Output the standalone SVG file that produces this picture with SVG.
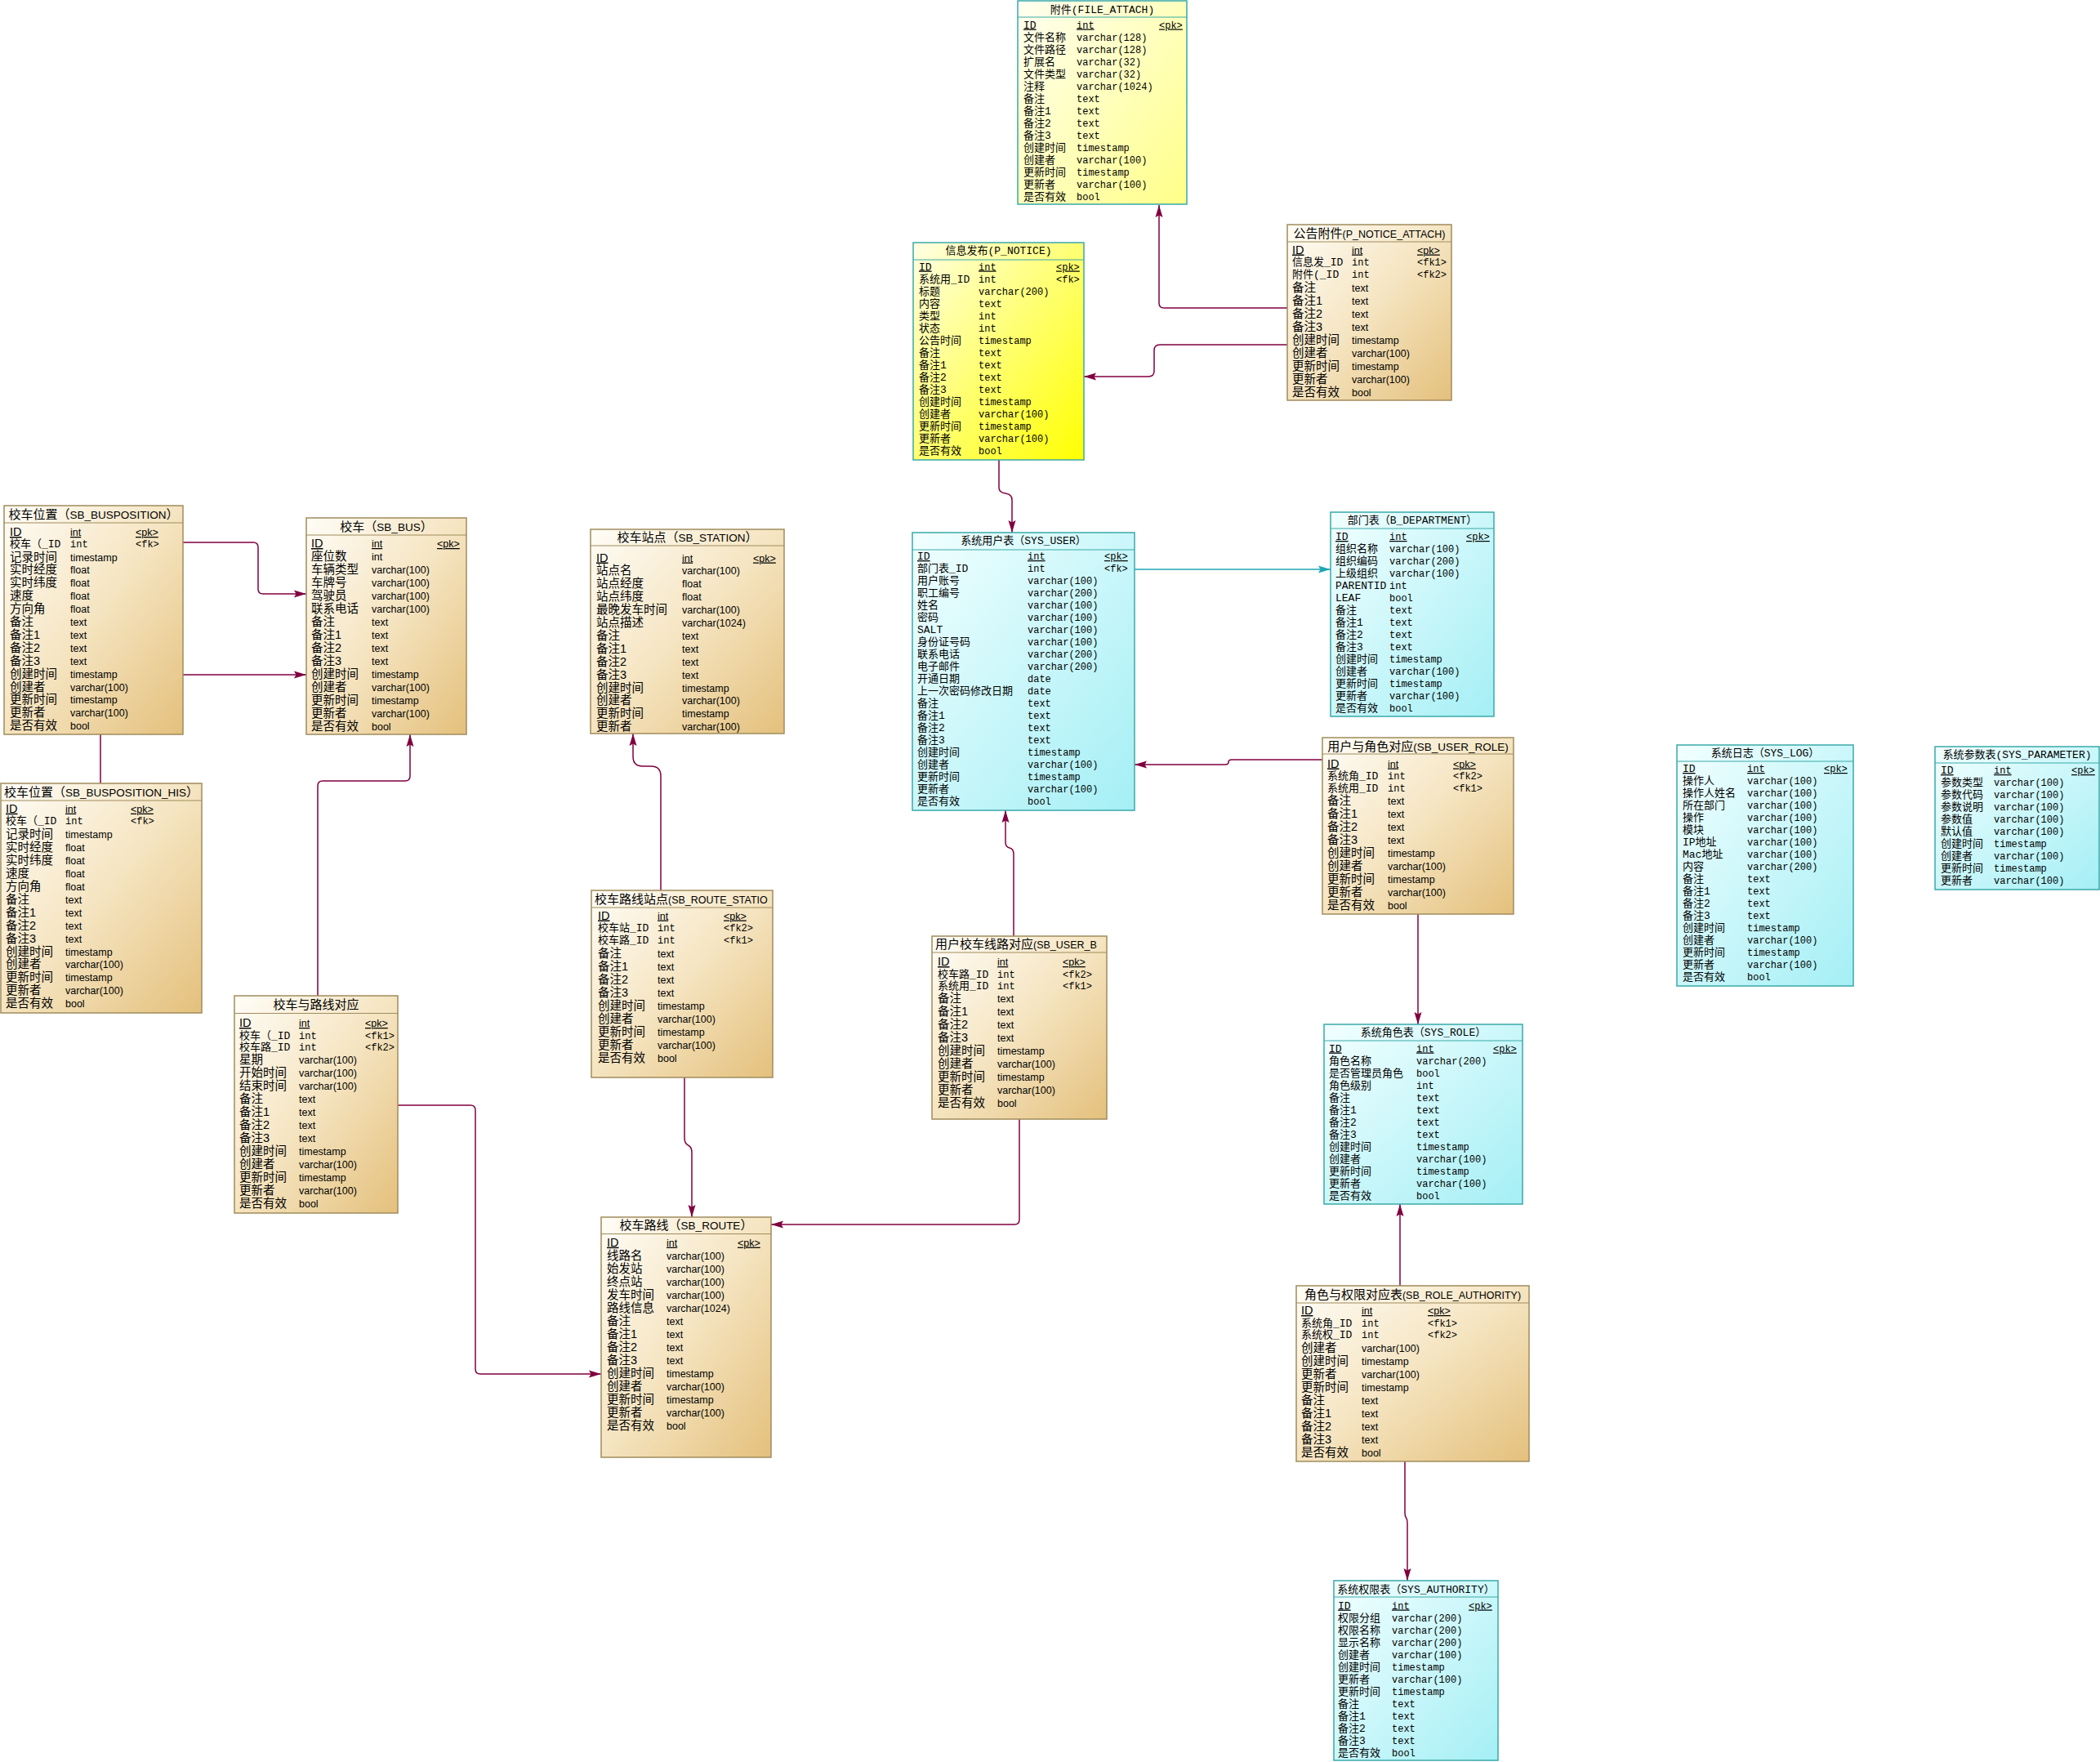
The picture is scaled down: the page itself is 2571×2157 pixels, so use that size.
<svg xmlns="http://www.w3.org/2000/svg" width="2571" height="2157" viewBox="0 0 2571 2157">
<style>
.rT{fill:url(#gT);stroke:#a08c5c;stroke-width:1.5}
.rC{fill:url(#gC);stroke:#3aa9a9;stroke-width:1.5}
.rY{fill:url(#gY);stroke:#3aa9a9;stroke-width:1.5}
.rL{fill:url(#gL);stroke:#3aa9a9;stroke-width:1.5}
.lT{fill:none;stroke:#a08c5c;stroke-width:1.2}
.lC{fill:none;stroke:#3aa9a9;stroke-width:1.2}
.mn{font-family:"Liberation Mono","Noto Sans CJK SC",monospace;font-size:13px;fill:#000}
.mt{font-family:"Liberation Mono","Noto Sans CJK SC",monospace;font-size:12px;fill:#000}
.sn{font-family:"Liberation Sans","Noto Sans CJK SC",sans-serif;font-size:14.5px;fill:#000}
.st{font-family:"Liberation Sans","Noto Sans CJK SC",sans-serif;font-size:12.5px;fill:#000}
.sh{font-family:"Liberation Sans","Noto Sans CJK SC",sans-serif;font-size:12.5px;fill:#000}
.sb{font-size:13.5px}
.hc{font-size:15px}
.ttl{text-anchor:middle}
.u{text-decoration:underline}
.cn{fill:none;stroke:#800040;stroke-width:1.5}
.cc{fill:none;stroke:#1fa6b4;stroke-width:1.5}
</style>
<defs>
<linearGradient id="gT" x1="0" y1="0" x2="1" y2="1"><stop offset="0" stop-color="#fffdf7"/><stop offset="0.5" stop-color="#f5e4c0"/><stop offset="1" stop-color="#e4c07c"/></linearGradient>
<linearGradient id="gC" x1="0" y1="0" x2="1" y2="1"><stop offset="0" stop-color="#f2ffff"/><stop offset="1" stop-color="#a4eff5"/></linearGradient>
<linearGradient id="gY" x1="0" y1="0" x2="1" y2="1"><stop offset="0" stop-color="#ffffe4"/><stop offset="1" stop-color="#ffff00"/></linearGradient>
<linearGradient id="gL" x1="0" y1="0" x2="1" y2="1"><stop offset="0" stop-color="#fffff2"/><stop offset="1" stop-color="#ffff88"/></linearGradient>
<marker id="ah" viewBox="0 0 15 10" refX="15" refY="5" markerWidth="15" markerHeight="10" markerUnits="userSpaceOnUse" orient="auto"><path d="M0,0.5 L15,5 L0,9.5 L2.5,5 z" fill="#800040"/></marker>
<marker id="ahc" viewBox="0 0 15 10" refX="15" refY="5" markerWidth="15" markerHeight="10" markerUnits="userSpaceOnUse" orient="auto"><path d="M0,0.5 L15,5 L0,9.5 L2.5,5 z" fill="#1fa6b4"/></marker>
<clipPath id="c17"><rect x="1" y="1" width="220" height="19"/></clipPath>
<clipPath id="c19"><rect x="1" y="1" width="212" height="18"/></clipPath>
</defs>
<rect width="2571" height="2157" fill="#ffffff"/>

<g id="connectors">
<path class="cn" d="M1576,377 H1425 Q1419,377 1419,371 V251" marker-end="url(#ah)"/>
<path class="cn" d="M1576,422 H1420 Q1413,422 1413,429 V454 Q1413,461 1406,461 H1327" marker-end="url(#ah)"/>
<path class="cn" d="M1223,563 V597 Q1223,603 1231,604 Q1239,605 1239,612 V652" marker-end="url(#ah)"/>
<path class="cc" d="M1389,697 H1629" marker-end="url(#ahc)"/>
<path class="cn" d="M1619,930 H1508 Q1504,930 1504,933 Q1504,936 1500,936 H1389" marker-end="url(#ah)"/>
<path class="cn" d="M1736,1119 V1254" marker-end="url(#ah)"/>
<path class="cn" d="M1714,1574 V1474" marker-end="url(#ah)"/>
<path class="cn" d="M1720,1789 V1852 Q1720,1856 1721.5,1858 Q1723,1860 1723,1864 V1935" marker-end="url(#ah)"/>
<path class="cn" d="M224,664 H310 Q316,664 316,670 V721 Q316,727 322,727 H375" marker-end="url(#ah)"/>
<path class="cn" d="M123,959 V826 H375" marker-end="url(#ah)"/>
<path class="cn" d="M389,1219 V962 Q389,956 395,956 H496 Q502,956 502,950 V899" marker-end="url(#ah)"/>
<path class="cn" d="M487,1353 H576 Q582,1353 582,1359 V1676 Q582,1682 588,1682 H736" marker-end="url(#ah)"/>
<path class="cn" d="M809,1090 V950 Q809,938 797,938 H787 Q775,938 775,926 V898" marker-end="url(#ah)"/>
<path class="cn" d="M838,1319 V1393 Q838,1400 842.5,1402 Q847,1404 847,1411 V1490" marker-end="url(#ah)"/>
<path class="cn" d="M1248,1370 V1493 Q1248,1499 1242,1499 H944" marker-end="url(#ah)"/>
<path class="cn" d="M1241,1146 V1046 Q1241,1039 1236,1038 Q1231,1037 1231,1031 V992" marker-end="url(#ah)"/>
</g>

<g id="file_attach" transform="translate(1246,1)">
<rect class="rL" width="207" height="249"/>
<path class="lC" d="M0,20H207"/>
<text class="mn ttl" x="103.5" y="14.5">附件(FILE_ATTACH)</text>
<text class="mn u" x="7" y="33.5">ID</text><text class="mt u" x="72" y="33.5">int</text><text class="mt u" x="173" y="33.5">&lt;pk&gt;</text>
<text class="mn"><tspan x="7" y="48.5">文件名称</tspan><tspan x="7" dy="15">文件路径</tspan><tspan x="7" dy="15">扩展名</tspan><tspan x="7" dy="15">文件类型</tspan><tspan x="7" dy="15">注释</tspan><tspan x="7" dy="15">备注</tspan><tspan x="7" dy="15">备注1</tspan><tspan x="7" dy="15">备注2</tspan><tspan x="7" dy="15">备注3</tspan><tspan x="7" dy="15">创建时间</tspan><tspan x="7" dy="15">创建者</tspan><tspan x="7" dy="15">更新时间</tspan><tspan x="7" dy="15">更新者</tspan><tspan x="7" dy="15">是否有效</tspan></text>
<text class="mt"><tspan x="72" y="48.5">varchar(128)</tspan><tspan x="72" dy="15">varchar(128)</tspan><tspan x="72" dy="15">varchar(32)</tspan><tspan x="72" dy="15">varchar(32)</tspan><tspan x="72" dy="15">varchar(1024)</tspan><tspan x="72" dy="15">text</tspan><tspan x="72" dy="15">text</tspan><tspan x="72" dy="15">text</tspan><tspan x="72" dy="15">text</tspan><tspan x="72" dy="15">timestamp</tspan><tspan x="72" dy="15">varchar(100)</tspan><tspan x="72" dy="15">timestamp</tspan><tspan x="72" dy="15">varchar(100)</tspan><tspan x="72" dy="15">bool</tspan></text>
</g>

<g id="p_notice" transform="translate(1118,297)">
<rect class="rY" width="209" height="266"/>
<path class="lC" d="M0,21H209"/>
<text class="mn ttl" x="104.5" y="14">信息发布(P_NOTICE)</text>
<text class="mn u" x="7" y="33.5">ID</text><text class="mt u" x="80" y="33.5">int</text><text class="mt u" x="175" y="33.5">&lt;pk&gt;</text>
<text class="mt" x="175" y="48.5">&lt;fk&gt;</text>
<text class="mn"><tspan x="7" y="48.5">系统用_ID</tspan><tspan x="7" dy="15">标题</tspan><tspan x="7" dy="15">内容</tspan><tspan x="7" dy="15">类型</tspan><tspan x="7" dy="15">状态</tspan><tspan x="7" dy="15">公告时间</tspan><tspan x="7" dy="15">备注</tspan><tspan x="7" dy="15">备注1</tspan><tspan x="7" dy="15">备注2</tspan><tspan x="7" dy="15">备注3</tspan><tspan x="7" dy="15">创建时间</tspan><tspan x="7" dy="15">创建者</tspan><tspan x="7" dy="15">更新时间</tspan><tspan x="7" dy="15">更新者</tspan><tspan x="7" dy="15">是否有效</tspan></text>
<text class="mt"><tspan x="80" y="48.5">int</tspan><tspan x="80" dy="15">varchar(200)</tspan><tspan x="80" dy="15">text</tspan><tspan x="80" dy="15">int</tspan><tspan x="80" dy="15">int</tspan><tspan x="80" dy="15">timestamp</tspan><tspan x="80" dy="15">text</tspan><tspan x="80" dy="15">text</tspan><tspan x="80" dy="15">text</tspan><tspan x="80" dy="15">text</tspan><tspan x="80" dy="15">timestamp</tspan><tspan x="80" dy="15">varchar(100)</tspan><tspan x="80" dy="15">timestamp</tspan><tspan x="80" dy="15">varchar(100)</tspan><tspan x="80" dy="15">bool</tspan></text>
</g>

<g id="p_notice_attach" transform="translate(1576,275)">
<rect class="rT" width="201" height="215"/>
<path class="lT" d="M0,21H201"/>
<text class="sh ttl" x="100.5" y="15.5"><tspan class="hc">公告附件</tspan>(P_NOTICE_ATTACH)</text>
<text class="sn u" x="6" y="35.5">ID</text><text class="st u" x="79" y="35.5">int</text><text class="st u" x="159" y="35.5">&lt;pk&gt;</text>
<text class="mn"><tspan x="6" y="50">信息发_ID</tspan><tspan x="6" y="65">附件(_ID</tspan></text>
<text class="mt"><tspan x="79" y="50">int</tspan><tspan x="79" y="65">int</tspan><tspan x="159" y="50">&lt;fk1&gt;</tspan><tspan x="159" y="65">&lt;fk2&gt;</tspan></text>
<text class="sn"><tspan x="6" y="82">备注</tspan><tspan x="6" dy="16">备注1</tspan><tspan x="6" dy="16">备注2</tspan><tspan x="6" dy="16">备注3</tspan><tspan x="6" dy="16">创建时间</tspan><tspan x="6" dy="16">创建者</tspan><tspan x="6" dy="16">更新时间</tspan><tspan x="6" dy="16">更新者</tspan><tspan x="6" dy="16">是否有效</tspan></text>
<text class="st"><tspan x="79" y="82">text</tspan><tspan x="79" dy="16">text</tspan><tspan x="79" dy="16">text</tspan><tspan x="79" dy="16">text</tspan><tspan x="79" dy="16">timestamp</tspan><tspan x="79" dy="16">varchar(100)</tspan><tspan x="79" dy="16">timestamp</tspan><tspan x="79" dy="16">varchar(100)</tspan><tspan x="79" dy="16">bool</tspan></text>
</g>

<g id="sys_user" transform="translate(1117,652)">
<rect class="rC" width="272" height="340"/>
<path class="lC" d="M0,21H272"/>
<text class="mn ttl" x="136" y="14">系统用户表（SYS_USER）</text>
<text class="mn u" x="6" y="33">ID</text><text class="mt u" x="141" y="33">int</text><text class="mt u" x="235" y="33">&lt;pk&gt;</text>
<text class="mt" x="235" y="48">&lt;fk&gt;</text>
<text class="mn"><tspan x="6" y="48">部门表_ID</tspan><tspan x="6" dy="15">用户账号</tspan><tspan x="6" dy="15">职工编号</tspan><tspan x="6" dy="15">姓名</tspan><tspan x="6" dy="15">密码</tspan><tspan x="6" dy="15">SALT</tspan><tspan x="6" dy="15">身份证号码</tspan><tspan x="6" dy="15">联系电话</tspan><tspan x="6" dy="15">电子邮件</tspan><tspan x="6" dy="15">开通日期</tspan><tspan x="6" dy="15">上一次密码修改日期</tspan><tspan x="6" dy="15">备注</tspan><tspan x="6" dy="15">备注1</tspan><tspan x="6" dy="15">备注2</tspan><tspan x="6" dy="15">备注3</tspan><tspan x="6" dy="15">创建时间</tspan><tspan x="6" dy="15">创建者</tspan><tspan x="6" dy="15">更新时间</tspan><tspan x="6" dy="15">更新者</tspan><tspan x="6" dy="15">是否有效</tspan></text>
<text class="mt"><tspan x="141" y="48">int</tspan><tspan x="141" dy="15">varchar(100)</tspan><tspan x="141" dy="15">varchar(200)</tspan><tspan x="141" dy="15">varchar(100)</tspan><tspan x="141" dy="15">varchar(100)</tspan><tspan x="141" dy="15">varchar(100)</tspan><tspan x="141" dy="15">varchar(100)</tspan><tspan x="141" dy="15">varchar(200)</tspan><tspan x="141" dy="15">varchar(200)</tspan><tspan x="141" dy="15">date</tspan><tspan x="141" dy="15">date</tspan><tspan x="141" dy="15">text</tspan><tspan x="141" dy="15">text</tspan><tspan x="141" dy="15">text</tspan><tspan x="141" dy="15">text</tspan><tspan x="141" dy="15">timestamp</tspan><tspan x="141" dy="15">varchar(100)</tspan><tspan x="141" dy="15">timestamp</tspan><tspan x="141" dy="15">varchar(100)</tspan><tspan x="141" dy="15">bool</tspan></text>
</g>

<g id="b_department" transform="translate(1629,627)">
<rect class="rC" width="200" height="250"/>
<path class="lC" d="M0,20H200"/>
<text class="mn ttl" x="100" y="14">部门表（B_DEPARTMENT）</text>
<text class="mn u" x="6" y="34">ID</text><text class="mt u" x="72" y="34">int</text><text class="mt u" x="166" y="34">&lt;pk&gt;</text>
<text class="mn"><tspan x="6" y="49">组织名称</tspan><tspan x="6" dy="15">组织编码</tspan><tspan x="6" dy="15">上级组织</tspan><tspan x="6" dy="15">PARENTID</tspan><tspan x="6" dy="15">LEAF</tspan><tspan x="6" dy="15">备注</tspan><tspan x="6" dy="15">备注1</tspan><tspan x="6" dy="15">备注2</tspan><tspan x="6" dy="15">备注3</tspan><tspan x="6" dy="15">创建时间</tspan><tspan x="6" dy="15">创建者</tspan><tspan x="6" dy="15">更新时间</tspan><tspan x="6" dy="15">更新者</tspan><tspan x="6" dy="15">是否有效</tspan></text>
<text class="mt"><tspan x="72" y="49">varchar(100)</tspan><tspan x="72" dy="15">varchar(200)</tspan><tspan x="72" dy="15">varchar(100)</tspan><tspan x="72" dy="15">int</tspan><tspan x="72" dy="15">bool</tspan><tspan x="72" dy="15">text</tspan><tspan x="72" dy="15">text</tspan><tspan x="72" dy="15">text</tspan><tspan x="72" dy="15">text</tspan><tspan x="72" dy="15">timestamp</tspan><tspan x="72" dy="15">varchar(100)</tspan><tspan x="72" dy="15">timestamp</tspan><tspan x="72" dy="15">varchar(100)</tspan><tspan x="72" dy="15">bool</tspan></text>
</g>

<g id="sb_user_role" transform="translate(1619,903)">
<rect class="rT" width="234" height="216"/>
<path class="lT" d="M0,20H234"/>
<text class="sh ttl" x="117" y="15.5"><tspan class="hc">用户与角色对应</tspan><tspan class="sb">(SB_USER_ROLE)</tspan></text>
<text class="sn u" x="6" y="36.5">ID</text><text class="st u" x="80" y="36.5">int</text><text class="st u" x="160" y="36.5">&lt;pk&gt;</text>
<text class="mn"><tspan x="6" y="51">系统角_ID</tspan><tspan x="6" y="65.5">系统用_ID</tspan></text>
<text class="mt"><tspan x="80" y="51">int</tspan><tspan x="80" y="65.5">int</tspan><tspan x="160" y="51">&lt;fk2&gt;</tspan><tspan x="160" y="65.5">&lt;fk1&gt;</tspan></text>
<text class="sn"><tspan x="6" y="82">备注</tspan><tspan x="6" dy="16">备注1</tspan><tspan x="6" dy="16">备注2</tspan><tspan x="6" dy="16">备注3</tspan><tspan x="6" dy="16">创建时间</tspan><tspan x="6" dy="16">创建者</tspan><tspan x="6" dy="16">更新时间</tspan><tspan x="6" dy="16">更新者</tspan><tspan x="6" dy="16">是否有效</tspan></text>
<text class="st"><tspan x="80" y="82">text</tspan><tspan x="80" dy="16">text</tspan><tspan x="80" dy="16">text</tspan><tspan x="80" dy="16">text</tspan><tspan x="80" dy="16">timestamp</tspan><tspan x="80" dy="16">varchar(100)</tspan><tspan x="80" dy="16">timestamp</tspan><tspan x="80" dy="16">varchar(100)</tspan><tspan x="80" dy="16">bool</tspan></text>
</g>

<g id="sys_role" transform="translate(1621,1254)">
<rect class="rC" width="243" height="220"/>
<path class="lC" d="M0,20H243"/>
<text class="mn ttl" x="121.5" y="14">系统角色表（SYS_ROLE）</text>
<text class="mn u" x="6" y="33.5">ID</text><text class="mt u" x="113" y="33.5">int</text><text class="mt u" x="207" y="33.5">&lt;pk&gt;</text>
<text class="mn"><tspan x="6" y="48.5">角色名称</tspan><tspan x="6" dy="15">是否管理员角色</tspan><tspan x="6" dy="15">角色级别</tspan><tspan x="6" dy="15">备注</tspan><tspan x="6" dy="15">备注1</tspan><tspan x="6" dy="15">备注2</tspan><tspan x="6" dy="15">备注3</tspan><tspan x="6" dy="15">创建时间</tspan><tspan x="6" dy="15">创建者</tspan><tspan x="6" dy="15">更新时间</tspan><tspan x="6" dy="15">更新者</tspan><tspan x="6" dy="15">是否有效</tspan></text>
<text class="mt"><tspan x="113" y="48.5">varchar(200)</tspan><tspan x="113" dy="15">bool</tspan><tspan x="113" dy="15">int</tspan><tspan x="113" dy="15">text</tspan><tspan x="113" dy="15">text</tspan><tspan x="113" dy="15">text</tspan><tspan x="113" dy="15">text</tspan><tspan x="113" dy="15">timestamp</tspan><tspan x="113" dy="15">varchar(100)</tspan><tspan x="113" dy="15">timestamp</tspan><tspan x="113" dy="15">varchar(100)</tspan><tspan x="113" dy="15">bool</tspan></text>
</g>

<g id="sb_role_authority" transform="translate(1587,1574)">
<rect class="rT" width="285" height="215"/>
<path class="lT" d="M0,21H285"/>
<text class="sh ttl" x="142.5" y="15.5"><tspan class="hc">角色与权限对应表</tspan>(SB_ROLE_AUTHORITY)</text>
<text class="sn u" x="6" y="35">ID</text><text class="st u" x="80" y="35">int</text><text class="st u" x="161" y="35">&lt;pk&gt;</text>
<text class="mn"><tspan x="6" y="49.5">系统角_ID</tspan><tspan x="6" y="64">系统权_ID</tspan></text>
<text class="mt"><tspan x="80" y="49.5">int</tspan><tspan x="80" y="64">int</tspan><tspan x="161" y="49.5">&lt;fk1&gt;</tspan><tspan x="161" y="64">&lt;fk2&gt;</tspan></text>
<text class="sn"><tspan x="6" y="80.5">创建者</tspan><tspan x="6" dy="16">创建时间</tspan><tspan x="6" dy="16">更新者</tspan><tspan x="6" dy="16">更新时间</tspan><tspan x="6" dy="16">备注</tspan><tspan x="6" dy="16">备注1</tspan><tspan x="6" dy="16">备注2</tspan><tspan x="6" dy="16">备注3</tspan><tspan x="6" dy="16">是否有效</tspan></text>
<text class="st"><tspan x="80" y="80.5">varchar(100)</tspan><tspan x="80" dy="16">timestamp</tspan><tspan x="80" dy="16">varchar(100)</tspan><tspan x="80" dy="16">timestamp</tspan><tspan x="80" dy="16">text</tspan><tspan x="80" dy="16">text</tspan><tspan x="80" dy="16">text</tspan><tspan x="80" dy="16">text</tspan><tspan x="80" dy="16">bool</tspan></text>
</g>

<g id="sys_authority" transform="translate(1633,1935)">
<rect class="rC" width="201" height="220"/>
<path class="lC" d="M0,20H201"/>
<text class="mn ttl" x="100.5" y="14.5">系统权限表（SYS_AUTHORITY）</text>
<text class="mn u" x="5" y="34.5">ID</text><text class="mt u" x="71" y="34.5">int</text><text class="mt u" x="165" y="34.5">&lt;pk&gt;</text>
<text class="mn"><tspan x="5" y="49.5">权限分组</tspan><tspan x="5" dy="15">权限名称</tspan><tspan x="5" dy="15">显示名称</tspan><tspan x="5" dy="15">创建者</tspan><tspan x="5" dy="15">创建时间</tspan><tspan x="5" dy="15">更新者</tspan><tspan x="5" dy="15">更新时间</tspan><tspan x="5" dy="15">备注</tspan><tspan x="5" dy="15">备注1</tspan><tspan x="5" dy="15">备注2</tspan><tspan x="5" dy="15">备注3</tspan><tspan x="5" dy="15">是否有效</tspan></text>
<text class="mt"><tspan x="71" y="49.5">varchar(200)</tspan><tspan x="71" dy="15">varchar(200)</tspan><tspan x="71" dy="15">varchar(200)</tspan><tspan x="71" dy="15">varchar(100)</tspan><tspan x="71" dy="15">timestamp</tspan><tspan x="71" dy="15">varchar(100)</tspan><tspan x="71" dy="15">timestamp</tspan><tspan x="71" dy="15">text</tspan><tspan x="71" dy="15">text</tspan><tspan x="71" dy="15">text</tspan><tspan x="71" dy="15">text</tspan><tspan x="71" dy="15">bool</tspan></text>
</g>

<g id="sys_log" transform="translate(2053,912)">
<rect class="rC" width="216" height="295"/>
<path class="lC" d="M0,20H216"/>
<text class="mn ttl" x="108" y="14">系统日志（SYS_LOG）</text>
<text class="mn u" x="7" y="33">ID</text><text class="mt u" x="86" y="33">int</text><text class="mt u" x="180" y="33">&lt;pk&gt;</text>
<text class="mn"><tspan x="7" y="48">操作人</tspan><tspan x="7" dy="15">操作人姓名</tspan><tspan x="7" dy="15">所在部门</tspan><tspan x="7" dy="15">操作</tspan><tspan x="7" dy="15">模块</tspan><tspan x="7" dy="15">IP地址</tspan><tspan x="7" dy="15">Mac地址</tspan><tspan x="7" dy="15">内容</tspan><tspan x="7" dy="15">备注</tspan><tspan x="7" dy="15">备注1</tspan><tspan x="7" dy="15">备注2</tspan><tspan x="7" dy="15">备注3</tspan><tspan x="7" dy="15">创建时间</tspan><tspan x="7" dy="15">创建者</tspan><tspan x="7" dy="15">更新时间</tspan><tspan x="7" dy="15">更新者</tspan><tspan x="7" dy="15">是否有效</tspan></text>
<text class="mt"><tspan x="86" y="48">varchar(100)</tspan><tspan x="86" dy="15">varchar(100)</tspan><tspan x="86" dy="15">varchar(100)</tspan><tspan x="86" dy="15">varchar(100)</tspan><tspan x="86" dy="15">varchar(100)</tspan><tspan x="86" dy="15">varchar(100)</tspan><tspan x="86" dy="15">varchar(100)</tspan><tspan x="86" dy="15">varchar(200)</tspan><tspan x="86" dy="15">text</tspan><tspan x="86" dy="15">text</tspan><tspan x="86" dy="15">text</tspan><tspan x="86" dy="15">text</tspan><tspan x="86" dy="15">timestamp</tspan><tspan x="86" dy="15">varchar(100)</tspan><tspan x="86" dy="15">timestamp</tspan><tspan x="86" dy="15">varchar(100)</tspan><tspan x="86" dy="15">bool</tspan></text>
</g>

<g id="sys_parameter" transform="translate(2369,914)">
<rect class="rC" width="201" height="175"/>
<path class="lC" d="M0,20H201"/>
<text class="mn ttl" x="100.5" y="14">系统参数表(SYS_PARAMETER)</text>
<text class="mn u" x="7" y="33">ID</text><text class="mt u" x="72" y="33">int</text><text class="mt u" x="167" y="33">&lt;pk&gt;</text>
<text class="mn"><tspan x="7" y="48">参数类型</tspan><tspan x="7" dy="15">参数代码</tspan><tspan x="7" dy="15">参数说明</tspan><tspan x="7" dy="15">参数值</tspan><tspan x="7" dy="15">默认值</tspan><tspan x="7" dy="15">创建时间</tspan><tspan x="7" dy="15">创建者</tspan><tspan x="7" dy="15">更新时间</tspan><tspan x="7" dy="15">更新者</tspan></text>
<text class="mt"><tspan x="72" y="48">varchar(100)</tspan><tspan x="72" dy="15">varchar(100)</tspan><tspan x="72" dy="15">varchar(100)</tspan><tspan x="72" dy="15">varchar(100)</tspan><tspan x="72" dy="15">varchar(100)</tspan><tspan x="72" dy="15">timestamp</tspan><tspan x="72" dy="15">varchar(100)</tspan><tspan x="72" dy="15">timestamp</tspan><tspan x="72" dy="15">varchar(100)</tspan></text>
</g>

<g id="sb_busposition" transform="translate(5,619)">
<rect class="rT" width="219" height="280"/>
<path class="lT" d="M0,21H219"/>
<text class="sh ttl" x="109.5" y="15.5"><tspan class="hc">校车位置（</tspan><tspan class="sb">SB_BUSPOSITION</tspan><tspan class="hc">）</tspan></text>
<text class="sn u" x="7" y="37">ID</text><text class="st u" x="81" y="37">int</text><text class="st u" x="161" y="37">&lt;pk&gt;</text>
<text class="mn" x="7" y="51">校车（_ID</text><text class="mt" x="81" y="51">int</text><text class="mt" x="161" y="51">&lt;fk&gt;</text>
<text class="sn"><tspan x="7" y="67.5">记录时间</tspan><tspan x="7" dy="15.9">实时经度</tspan><tspan x="7" dy="15.9">实时纬度</tspan><tspan x="7" dy="15.9">速度</tspan><tspan x="7" dy="15.9">方向角</tspan><tspan x="7" dy="15.9">备注</tspan><tspan x="7" dy="15.9">备注1</tspan><tspan x="7" dy="15.9">备注2</tspan><tspan x="7" dy="15.9">备注3</tspan><tspan x="7" dy="15.9">创建时间</tspan><tspan x="7" dy="15.9">创建者</tspan><tspan x="7" dy="15.9">更新时间</tspan><tspan x="7" dy="15.9">更新者</tspan><tspan x="7" dy="15.9">是否有效</tspan></text>
<text class="st"><tspan x="81" y="67.5">timestamp</tspan><tspan x="81" dy="15.9">float</tspan><tspan x="81" dy="15.9">float</tspan><tspan x="81" dy="15.9">float</tspan><tspan x="81" dy="15.9">float</tspan><tspan x="81" dy="15.9">text</tspan><tspan x="81" dy="15.9">text</tspan><tspan x="81" dy="15.9">text</tspan><tspan x="81" dy="15.9">text</tspan><tspan x="81" dy="15.9">timestamp</tspan><tspan x="81" dy="15.9">varchar(100)</tspan><tspan x="81" dy="15.9">timestamp</tspan><tspan x="81" dy="15.9">varchar(100)</tspan><tspan x="81" dy="15.9">bool</tspan></text>
</g>

<g id="sb_bus" transform="translate(375,634)">
<rect class="rT" width="196" height="265"/>
<path class="lT" d="M0,21H196"/>
<text class="sh ttl" x="98" y="15.5"><tspan class="hc">校车（</tspan><tspan class="sb">SB_BUS</tspan><tspan class="hc">）</tspan></text>
<text class="sn u" x="6" y="36">ID</text><text class="st u" x="80" y="36">int</text><text class="st u" x="160" y="36">&lt;pk&gt;</text>
<text class="sn"><tspan x="6" y="52">座位数</tspan><tspan x="6" dy="16">车辆类型</tspan><tspan x="6" dy="16">车牌号</tspan><tspan x="6" dy="16">驾驶员</tspan><tspan x="6" dy="16">联系电话</tspan><tspan x="6" dy="16">备注</tspan><tspan x="6" dy="16">备注1</tspan><tspan x="6" dy="16">备注2</tspan><tspan x="6" dy="16">备注3</tspan><tspan x="6" dy="16">创建时间</tspan><tspan x="6" dy="16">创建者</tspan><tspan x="6" dy="16">更新时间</tspan><tspan x="6" dy="16">更新者</tspan><tspan x="6" dy="16">是否有效</tspan></text>
<text class="st"><tspan x="80" y="52">int</tspan><tspan x="80" dy="16">varchar(100)</tspan><tspan x="80" dy="16">varchar(100)</tspan><tspan x="80" dy="16">varchar(100)</tspan><tspan x="80" dy="16">varchar(100)</tspan><tspan x="80" dy="16">text</tspan><tspan x="80" dy="16">text</tspan><tspan x="80" dy="16">text</tspan><tspan x="80" dy="16">text</tspan><tspan x="80" dy="16">timestamp</tspan><tspan x="80" dy="16">varchar(100)</tspan><tspan x="80" dy="16">timestamp</tspan><tspan x="80" dy="16">varchar(100)</tspan><tspan x="80" dy="16">bool</tspan></text>
</g>

<g id="sb_station" transform="translate(723,648)">
<rect class="rT" width="237" height="250"/>
<path class="lT" d="M0,20H237"/>
<text class="sh ttl" x="118.5" y="15"><tspan class="hc">校车站点（</tspan><tspan class="sb">SB_STATION</tspan><tspan class="hc">）</tspan></text>
<text class="sn u" x="7" y="39.5">ID</text><text class="st u" x="112" y="39.5">int</text><text class="st u" x="199" y="39.5">&lt;pk&gt;</text>
<text class="sn"><tspan x="7" y="55.4">站点名</tspan><tspan x="7" dy="15.9">站点经度</tspan><tspan x="7" dy="15.9">站点纬度</tspan><tspan x="7" dy="15.9">最晚发车时间</tspan><tspan x="7" dy="15.9">站点描述</tspan><tspan x="7" dy="15.9">备注</tspan><tspan x="7" dy="15.9">备注1</tspan><tspan x="7" dy="15.9">备注2</tspan><tspan x="7" dy="15.9">备注3</tspan><tspan x="7" dy="15.9">创建时间</tspan><tspan x="7" dy="15.9">创建者</tspan><tspan x="7" dy="15.9">更新时间</tspan><tspan x="7" dy="15.9">更新者</tspan></text>
<text class="st"><tspan x="112" y="55.4">varchar(100)</tspan><tspan x="112" dy="15.9">float</tspan><tspan x="112" dy="15.9">float</tspan><tspan x="112" dy="15.9">varchar(100)</tspan><tspan x="112" dy="15.9">varchar(1024)</tspan><tspan x="112" dy="15.9">text</tspan><tspan x="112" dy="15.9">text</tspan><tspan x="112" dy="15.9">text</tspan><tspan x="112" dy="15.9">text</tspan><tspan x="112" dy="15.9">timestamp</tspan><tspan x="112" dy="15.9">varchar(100)</tspan><tspan x="112" dy="15.9">timestamp</tspan><tspan x="112" dy="15.9">varchar(100)</tspan></text>
</g>

<g id="sb_busposition_his" transform="translate(1,959)">
<rect class="rT" width="246" height="281"/>
<path class="lT" d="M0,21H246"/>
<text class="sh ttl" x="123" y="15.5"><tspan class="hc">校车位置（</tspan><tspan class="sb">SB_BUSPOSITION_HIS</tspan><tspan class="hc">）</tspan></text>
<text class="sn u" x="6" y="35.7">ID</text><text class="st u" x="79" y="35.7">int</text><text class="st u" x="159" y="35.7">&lt;pk&gt;</text>
<text class="mn" x="6" y="50.3">校车（_ID</text><text class="mt" x="79" y="50.3">int</text><text class="mt" x="159" y="50.3">&lt;fk&gt;</text>
<text class="sn"><tspan x="6" y="67">记录时间</tspan><tspan x="6" dy="15.95">实时经度</tspan><tspan x="6" dy="15.95">实时纬度</tspan><tspan x="6" dy="15.95">速度</tspan><tspan x="6" dy="15.95">方向角</tspan><tspan x="6" dy="15.95">备注</tspan><tspan x="6" dy="15.95">备注1</tspan><tspan x="6" dy="15.95">备注2</tspan><tspan x="6" dy="15.95">备注3</tspan><tspan x="6" dy="15.95">创建时间</tspan><tspan x="6" dy="15.95">创建者</tspan><tspan x="6" dy="15.95">更新时间</tspan><tspan x="6" dy="15.95">更新者</tspan><tspan x="6" dy="15.95">是否有效</tspan></text>
<text class="st"><tspan x="79" y="67">timestamp</tspan><tspan x="79" dy="15.95">float</tspan><tspan x="79" dy="15.95">float</tspan><tspan x="79" dy="15.95">float</tspan><tspan x="79" dy="15.95">float</tspan><tspan x="79" dy="15.95">text</tspan><tspan x="79" dy="15.95">text</tspan><tspan x="79" dy="15.95">text</tspan><tspan x="79" dy="15.95">text</tspan><tspan x="79" dy="15.95">timestamp</tspan><tspan x="79" dy="15.95">varchar(100)</tspan><tspan x="79" dy="15.95">timestamp</tspan><tspan x="79" dy="15.95">varchar(100)</tspan><tspan x="79" dy="15.95">bool</tspan></text>
</g>

<g id="sb_bus_route" transform="translate(287,1219)">
<rect class="rT" width="200" height="266"/>
<path class="lT" d="M0,21.5H200"/>
<text class="sh ttl hc" x="100" y="16">校车与路线对应</text>
<text class="sn u" x="6" y="38">ID</text><text class="st u" x="79" y="38">int</text><text class="st u" x="160" y="38">&lt;pk&gt;</text>
<text class="mn"><tspan x="6" y="52.5">校车（_ID</tspan><tspan x="6" y="67">校车路_ID</tspan></text>
<text class="mt"><tspan x="79" y="52.5">int</tspan><tspan x="79" y="67">int</tspan><tspan x="160" y="52.5">&lt;fk1&gt;</tspan><tspan x="160" y="67">&lt;fk2&gt;</tspan></text>
<text class="sn"><tspan x="6" y="83">星期</tspan><tspan x="6" dy="16">开始时间</tspan><tspan x="6" dy="16">结束时间</tspan><tspan x="6" dy="16">备注</tspan><tspan x="6" dy="16">备注1</tspan><tspan x="6" dy="16">备注2</tspan><tspan x="6" dy="16">备注3</tspan><tspan x="6" dy="16">创建时间</tspan><tspan x="6" dy="16">创建者</tspan><tspan x="6" dy="16">更新时间</tspan><tspan x="6" dy="16">更新者</tspan><tspan x="6" dy="16">是否有效</tspan></text>
<text class="st"><tspan x="79" y="83">varchar(100)</tspan><tspan x="79" dy="16">varchar(100)</tspan><tspan x="79" dy="16">varchar(100)</tspan><tspan x="79" dy="16">text</tspan><tspan x="79" dy="16">text</tspan><tspan x="79" dy="16">text</tspan><tspan x="79" dy="16">text</tspan><tspan x="79" dy="16">timestamp</tspan><tspan x="79" dy="16">varchar(100)</tspan><tspan x="79" dy="16">timestamp</tspan><tspan x="79" dy="16">varchar(100)</tspan><tspan x="79" dy="16">bool</tspan></text>
</g>

<g id="sb_route_station" transform="translate(724,1090)">
<rect class="rT" width="222" height="229"/>
<path class="lT" d="M0,21H222"/>
<text class="sh" x="4" y="15.5" clip-path="url(#c17)"><tspan class="hc">校车路线站点</tspan>(SB_ROUTE_STATIO</text>
<text class="sn u" x="8" y="35.5">ID</text><text class="st u" x="81" y="35.5">int</text><text class="st u" x="162" y="35.5">&lt;pk&gt;</text>
<text class="mn"><tspan x="8" y="50.3">校车站_ID</tspan><tspan x="8" y="65">校车路_ID</tspan></text>
<text class="mt"><tspan x="81" y="50.3">int</tspan><tspan x="81" y="65">int</tspan><tspan x="162" y="50.3">&lt;fk2&gt;</tspan><tspan x="162" y="65">&lt;fk1&gt;</tspan></text>
<text class="sn"><tspan x="8" y="81.8">备注</tspan><tspan x="8" dy="16">备注1</tspan><tspan x="8" dy="16">备注2</tspan><tspan x="8" dy="16">备注3</tspan><tspan x="8" dy="16">创建时间</tspan><tspan x="8" dy="16">创建者</tspan><tspan x="8" dy="16">更新时间</tspan><tspan x="8" dy="16">更新者</tspan><tspan x="8" dy="16">是否有效</tspan></text>
<text class="st"><tspan x="81" y="81.8">text</tspan><tspan x="81" dy="16">text</tspan><tspan x="81" dy="16">text</tspan><tspan x="81" dy="16">text</tspan><tspan x="81" dy="16">timestamp</tspan><tspan x="81" dy="16">varchar(100)</tspan><tspan x="81" dy="16">timestamp</tspan><tspan x="81" dy="16">varchar(100)</tspan><tspan x="81" dy="16">bool</tspan></text>
</g>

<g id="sb_route" transform="translate(736,1490)">
<rect class="rT" width="208" height="294"/>
<path class="lT" d="M0,20.5H208"/>
<text class="sh ttl" x="104" y="15"><tspan class="hc">校车路线（</tspan><tspan class="sb">SB_ROUTE</tspan><tspan class="hc">）</tspan></text>
<text class="sn u" x="7" y="35.7">ID</text><text class="st u" x="80" y="35.7">int</text><text class="st u" x="167" y="35.7">&lt;pk&gt;</text>
<text class="sn"><tspan x="7" y="51.7">线路名</tspan><tspan x="7" dy="16">始发站</tspan><tspan x="7" dy="16">终点站</tspan><tspan x="7" dy="16">发车时间</tspan><tspan x="7" dy="16">路线信息</tspan><tspan x="7" dy="16">备注</tspan><tspan x="7" dy="16">备注1</tspan><tspan x="7" dy="16">备注2</tspan><tspan x="7" dy="16">备注3</tspan><tspan x="7" dy="16">创建时间</tspan><tspan x="7" dy="16">创建者</tspan><tspan x="7" dy="16">更新时间</tspan><tspan x="7" dy="16">更新者</tspan><tspan x="7" dy="16">是否有效</tspan></text>
<text class="st"><tspan x="80" y="51.7">varchar(100)</tspan><tspan x="80" dy="16">varchar(100)</tspan><tspan x="80" dy="16">varchar(100)</tspan><tspan x="80" dy="16">varchar(100)</tspan><tspan x="80" dy="16">varchar(1024)</tspan><tspan x="80" dy="16">text</tspan><tspan x="80" dy="16">text</tspan><tspan x="80" dy="16">text</tspan><tspan x="80" dy="16">text</tspan><tspan x="80" dy="16">timestamp</tspan><tspan x="80" dy="16">varchar(100)</tspan><tspan x="80" dy="16">timestamp</tspan><tspan x="80" dy="16">varchar(100)</tspan><tspan x="80" dy="16">bool</tspan></text>
</g>

<g id="sb_user_bus" transform="translate(1141,1146)">
<rect class="rT" width="214" height="224"/>
<path class="lT" d="M0,20H214"/>
<text class="sh" x="4" y="15" clip-path="url(#c19)"><tspan class="hc">用户校车线路对应</tspan>(SB_USER_B</text>
<text class="sn u" x="7" y="36">ID</text><text class="st u" x="80" y="36">int</text><text class="st u" x="160" y="36">&lt;pk&gt;</text>
<text class="mn"><tspan x="7" y="50.5">校车路_ID</tspan><tspan x="7" y="65">系统用_ID</tspan></text>
<text class="mt"><tspan x="80" y="50.5">int</tspan><tspan x="80" y="65">int</tspan><tspan x="160" y="50.5">&lt;fk2&gt;</tspan><tspan x="160" y="65">&lt;fk1&gt;</tspan></text>
<text class="sn"><tspan x="7" y="81">备注</tspan><tspan x="7" dy="16">备注1</tspan><tspan x="7" dy="16">备注2</tspan><tspan x="7" dy="16">备注3</tspan><tspan x="7" dy="16">创建时间</tspan><tspan x="7" dy="16">创建者</tspan><tspan x="7" dy="16">更新时间</tspan><tspan x="7" dy="16">更新者</tspan><tspan x="7" dy="16">是否有效</tspan></text>
<text class="st"><tspan x="80" y="81">text</tspan><tspan x="80" dy="16">text</tspan><tspan x="80" dy="16">text</tspan><tspan x="80" dy="16">text</tspan><tspan x="80" dy="16">timestamp</tspan><tspan x="80" dy="16">varchar(100)</tspan><tspan x="80" dy="16">timestamp</tspan><tspan x="80" dy="16">varchar(100)</tspan><tspan x="80" dy="16">bool</tspan></text>
</g>
</svg>
